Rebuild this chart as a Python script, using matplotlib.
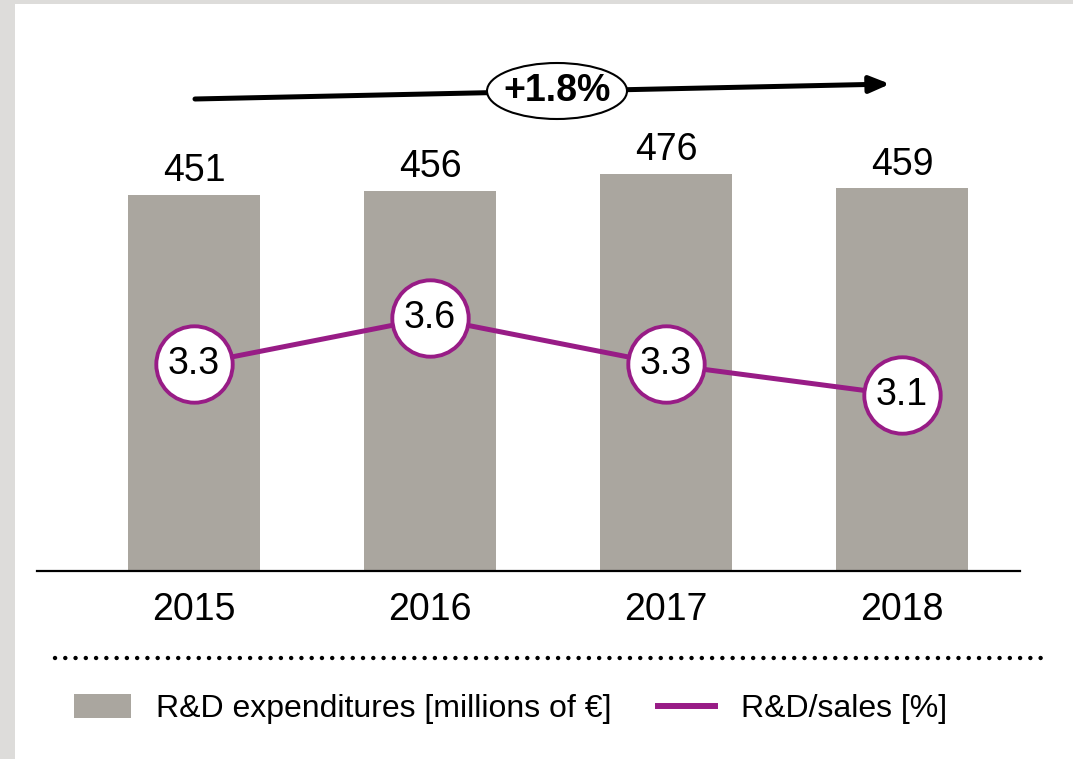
import matplotlib
matplotlib.use('Agg')
import matplotlib.pyplot as plt
from matplotlib.patches import Ellipse, Rectangle, Patch
from matplotlib.lines import Line2D

plt.rcParams['font.family'] = ['Liberation Sans', 'DejaVu Sans']

# data
years = ['2015', '2016', '2017', '2018']
rd_spend = [451, 456, 476, 459]          # millions of EUR
rd_ratio = [3.3, 3.6, 3.3, 3.1]          # R&D / sales in %
growth_label = '+1.8%'

bar_color = '#aaa69f'
line_color = '#981c86'

W, H = 1073, 759
fig = plt.figure(figsize=(W / 100, H / 100), dpi=100)
fig.patch.set_facecolor('#dddcda')
# white panel (gray frame left and top)
fig.add_artist(Rectangle((15 / W, 0), 1 - 15 / W, 1 - 4 / H, transform=fig.transFigure,
                         facecolor='white', edgecolor='none', zorder=0))

ax = fig.add_axes([37 / W, 188 / H, 983 / W, 541 / H])
ax.patch.set_alpha(0)
x = list(range(len(years)))
bars = ax.bar(x, rd_spend, width=0.56, color=bar_color, zorder=2)
ax.bar_label(bars, labels=[str(v) for v in rd_spend], padding=4, fontsize=27)
ax.set_xlim(-0.665, 3.5)
ax.set_ylim(0, 648.7)
ax.set_xticks(x)
ax.set_xticklabels(years, fontsize=27)
ax.tick_params(axis='x', length=0, pad=15)
ax.set_yticks([])
for s in ['top', 'left', 'right']:
    ax.spines[s].set_visible(False)
ax.spines['bottom'].set_linewidth(1.6)

# R&D/sales line on a second scale
ax2 = ax.twinx()
ax2.set_ylim(1.966, 5.459)
ax2.axis('off')
ax2.plot(x, rd_ratio, color=line_color, lw=3.6, marker='o', ms=55,
         mfc='white', mec=line_color, mew=2.8, zorder=3)
for xi, v in zip(x, rd_ratio):
    ax2.text(xi, v, f'{v:.1f}', ha='center', va='center', fontsize=27, zorder=4)

# growth arrow with ellipse
ax.annotate('', xy=(890, H - 84), xytext=(195, H - 99),
            xycoords='figure pixels', textcoords='figure pixels',
            arrowprops=dict(arrowstyle='-|>,head_length=1.2,head_width=0.5',
                            color='black', lw=3.6, shrinkA=0, shrinkB=0),
            annotation_clip=False)
fig.add_artist(Ellipse((557 / W, 1 - 91 / H), 140 / W, 56 / H, transform=fig.transFigure,
                       facecolor='white', edgecolor='black', lw=1.5, zorder=5))
fig.text(557 / W, 1 - 91 / H, growth_label, ha='center', va='center',
         fontsize=27, fontweight='bold', zorder=6)

# dotted separator
fig.add_artist(Line2D([55 / W, 1043 / W], [1 - 658 / H] * 2, transform=fig.transFigure,
                      color='black', lw=3.2, linestyle=(0, (0.01, 2.3)),
                      dash_capstyle='round'))

# legend
handles = [Patch(facecolor=bar_color, edgecolor='none'),
           Line2D([0], [0], color=line_color, lw=4.3)]
fig.legend(handles, ['R&D expenditures [millions of \u20ac]', 'R&D/sales [%]'],
           loc='center left', bbox_to_anchor=(74 / W, 1 - 709 / H), ncol=2,
           frameon=False, fontsize=23, handlelength=1.78, handleheight=0.75,
           handletextpad=0.8, columnspacing=1.45, borderpad=0, borderaxespad=0)

fig.savefig('out.png', dpi=100)
